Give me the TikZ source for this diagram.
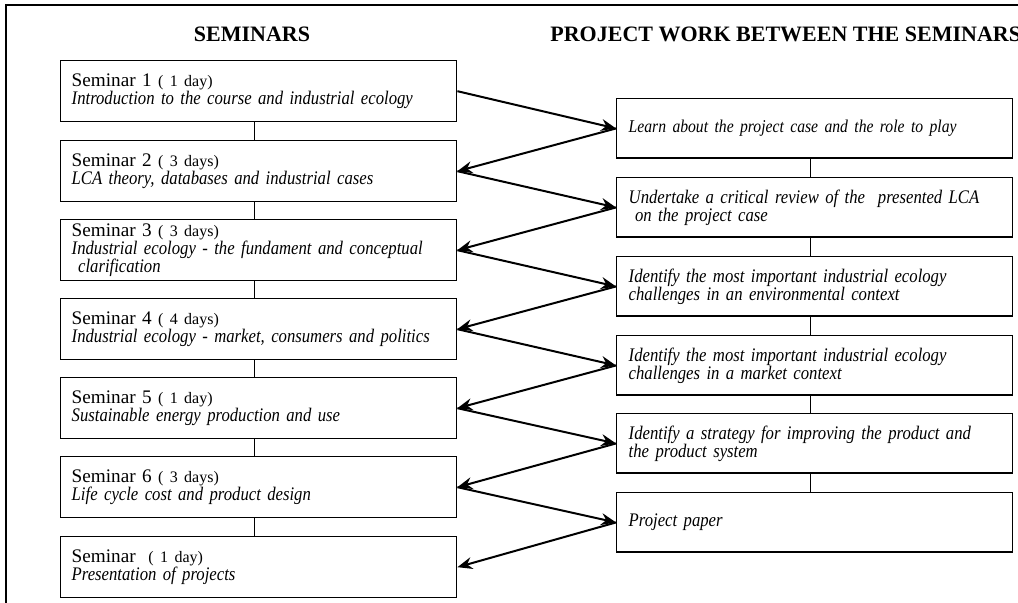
\documentclass[tikz,border=0pt]{standalone}
\usepackage{fontspec}
\setmainfont{Liberation Serif}[ItalicFeatures={FakeStretch=0.87}]
\usepackage{tikz}
\usetikzlibrary{arrows.meta, positioning}

\newcommand{\tightlines}{\lineskiplimit=-5pt\relax}
\tikzset{
  sembox/.style={draw, line width=0.7pt, anchor=north west, minimum width=198pt,
    minimum height=30.5pt, text width=187pt, inner xsep=5.5pt, inner ysep=0pt,
    align=left, font=\fontsize{9.6}{9}\selectfont\tightlines},
  taskbox/.style={draw, line width=0.7pt, anchor=north west, minimum width=198pt,
    minimum height=29.75pt, text width=186pt, inner xsep=6pt, inner ysep=0pt,
    align=left, font=\fontsize{9.6}{9}\selectfont\tightlines\itshape},
  head/.style={inner sep=0pt, font=\fontsize{11}{12}\selectfont\bfseries},
  arr/.style={line width=1pt, -{Stealth[length=7.5pt, width=6pt, inset=2.5pt]}},
  link/.style={line width=0.6pt}
}
\newcommand{\days}[1]{{\fontsize{8}{8}\selectfont ( #1)}}

\begin{document}
\begin{tikzpicture}[x=0.5pt, y=-0.5pt]

            \useasboundingbox (0,0) rectangle (1018,603);

            % Rahmen
            \draw[line width=0.8pt] (6,603) -- (6,5) -- (1018,5);

            % Überschriften
            \node[head] (hsem) at (252,34) {SEMINARS};
            \node[head, anchor=west] (hproj) at (550,34) {PROJECT WORK BETWEEN THE SEMINARS};

            % Seminare
            \node[sembox] (s1) at (60,60) {Seminar 1 \days{1 day}\\ \textit{Introduction to the course and industrial ecology}};
            \node[sembox] (s2) at (60,140) {Seminar 2 \days{3 days}\\ \textit{LCA theory, databases and industrial cases}};
            \node[sembox] (s3) at (60,219) {Seminar 3 \days{3 days}\\ \textit{Industrial ecology - the fundament and conceptual}\\ \textit{\ clarification}};
            \node[sembox] (s4) at (60,298) {Seminar 4 \days{4 days}\\ \textit{Industrial ecology - market, consumers and politics}};
            \node[sembox] (s5) at (60,377) {Seminar 5 \days{1 day}\\ \textit{Sustainable energy production and use}};
            \node[sembox] (s6) at (60,456) {Seminar 6 \days{3 days}\\ \textit{Life cycle cost and product design}};
            \node[sembox] (s7) at (60,536) {Seminar \ \days{1 day}\\ \textit{Presentation of projects}};

            % Projektarbeit
            \node[taskbox] (p1) at (616,98) {\fontsize{9}{9}\selectfont Learn about the project case and the role to play};
            \node[taskbox] (p2) at (616,177) {Undertake a critical review of the \ presented LCA\\ \ on the project case};
            \node[taskbox] (p3) at (616,256) {Identify the most important industrial ecology\\ challenges in an environmental context};
            \node[taskbox] (p4) at (616,335) {Identify the most important industrial ecology\\ challenges in a market context};
            \node[taskbox] (p5) at (616,413) {Identify a strategy for improving the product and\\ the product system};
            \node[taskbox] (p6) at (616,492) {Project paper};

            % Verbindungen
            \foreach \i [count=\j from 2] in {1,...,6} {
              \draw[link] ([xshift=-2pt]s\i.south) -- ([xshift=-2pt]s\j.north);
              \draw[arr] (s\i.east) -- (p\i.west);
              \draw[arr] (p\i.west) -- (s\j.east);
            }
            \foreach \i [count=\j from 2] in {1,...,5}
              \draw[link] ([xshift=-2pt]p\i.south) -- ([xshift=-2pt]p\j.north);

            \end{tikzpicture}
\end{document}
